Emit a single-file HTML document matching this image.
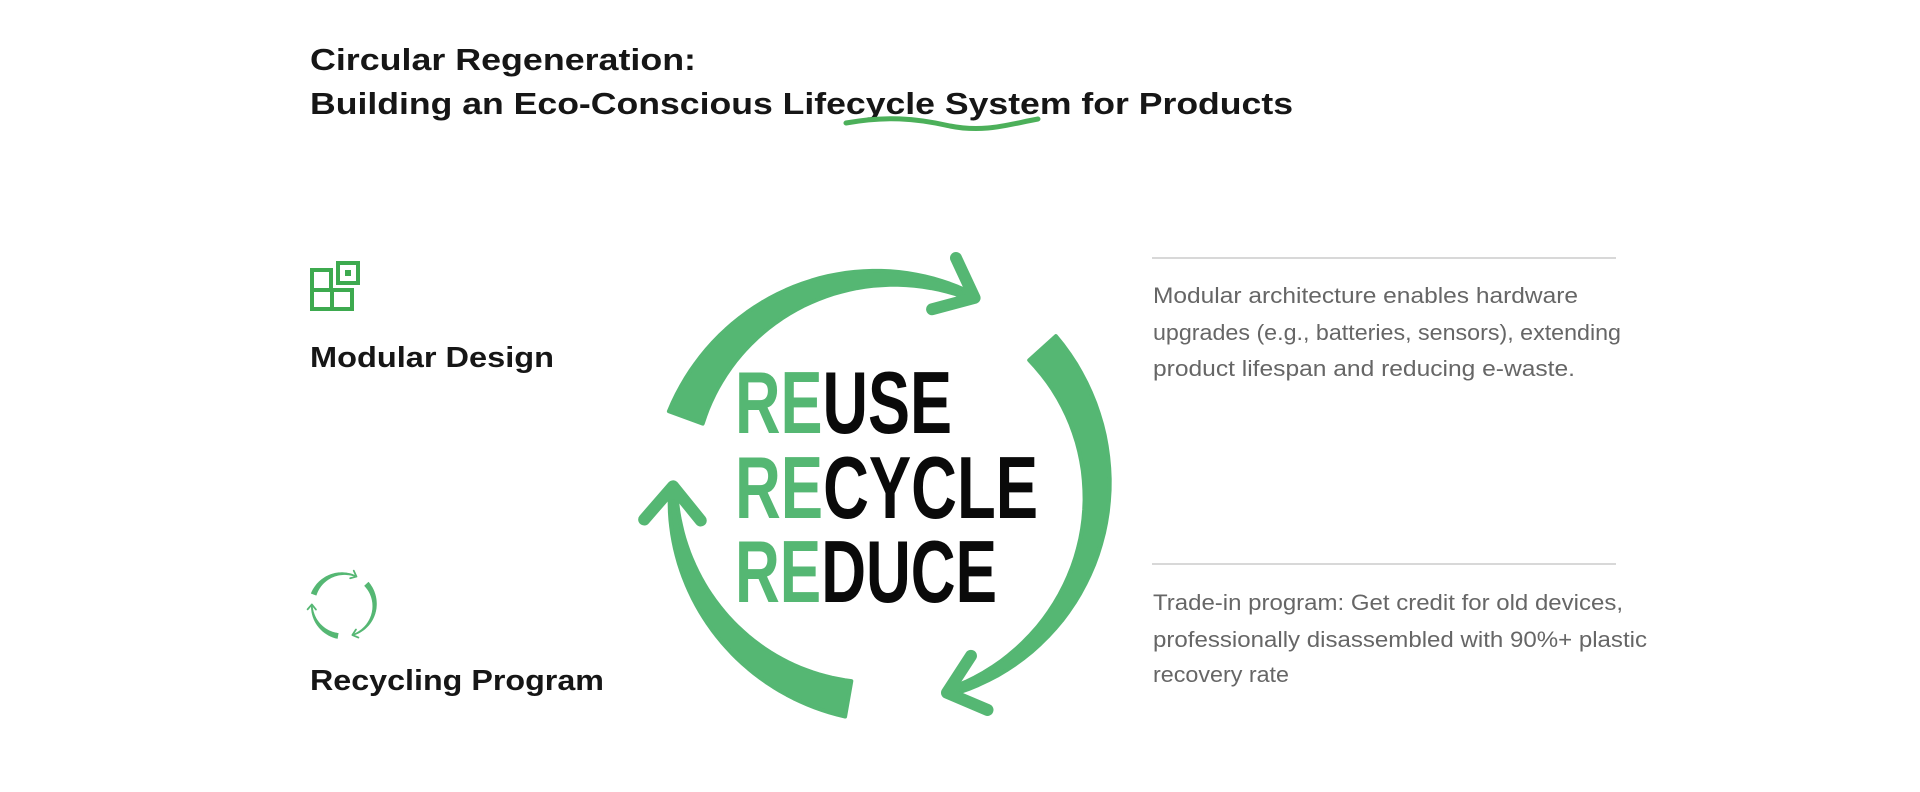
<!DOCTYPE html>
<html><head><meta charset="utf-8"><style>
html,body{margin:0;padding:0;background:#fff;width:1920px;height:792px;overflow:hidden}
svg{display:block}
</style></head><body>
<svg id="s" width="1920" height="792" viewBox="0 0 1920 792" xmlns="http://www.w3.org/2000/svg" font-family="Liberation Sans, sans-serif">
<text x="310" y="70" font-size="31" font-weight="bold" fill="#161616" textLength="386" lengthAdjust="spacingAndGlyphs">Circular Regeneration:</text>
<text x="310" y="114" font-size="31" font-weight="bold" fill="#161616" textLength="983" lengthAdjust="spacingAndGlyphs">Building an Eco-Conscious Lifecycle System for Products</text>
<path d="M846,123 C885,116 915,118 950,126 C985,133 1010,124 1038,119" fill="none" stroke="#4cb05a" stroke-width="5" stroke-linecap="round"/>

<g fill="none" stroke="#3daa4f" stroke-width="4">
<rect x="312" y="270" width="19" height="20"/>
<rect x="312" y="290" width="20" height="19"/>
<rect x="332" y="290" width="20" height="19"/>
<rect x="338" y="263" width="20" height="20"/>
</g>
<rect x="345" y="270" width="6" height="6" fill="#3daa4f"/>
<text x="310" y="367" font-size="29" font-weight="bold" fill="#161616" textLength="244" lengthAdjust="spacingAndGlyphs">Modular Design</text>
<text x="310" y="690" font-size="29" font-weight="bold" fill="#161616" textLength="294" lengthAdjust="spacingAndGlyphs">Recycling Program</text>

<line x1="1152" y1="258" x2="1616" y2="258" stroke="#d8d8d8" stroke-width="2"/>
<line x1="1152" y1="564" x2="1616" y2="564" stroke="#d8d8d8" stroke-width="2"/>
<g font-size="22" fill="#666">
<text x="1153" y="303" textLength="425" lengthAdjust="spacingAndGlyphs">Modular architecture enables hardware</text>
<text x="1153" y="340" textLength="468" lengthAdjust="spacingAndGlyphs">upgrades (e.g., batteries, sensors), extending</text>
<text x="1153" y="376" textLength="422" lengthAdjust="spacingAndGlyphs">product lifespan and reducing e-waste.</text>
<text x="1153" y="610" textLength="470" lengthAdjust="spacingAndGlyphs">Trade-in program: Get credit for old devices,</text>
<text x="1153" y="647" textLength="494" lengthAdjust="spacingAndGlyphs">professionally disassembled with 90%+ plastic</text>
<text x="1153" y="682" textLength="136" lengthAdjust="spacingAndGlyphs">recovery rate</text>
</g>

<g id="big" transform="translate(620,240)"></g>
<g id="small" transform="translate(304,568) scale(0.148)"></g>

<g transform="translate(620,240)" font-size="88" font-weight="bold">
<text x="115" y="193" textLength="217" lengthAdjust="spacingAndGlyphs"><tspan fill="#55b773">RE</tspan><tspan fill="#0a0a0a">USE</tspan></text>
<text x="115" y="278" textLength="303" lengthAdjust="spacingAndGlyphs"><tspan fill="#55b773">RE</tspan><tspan fill="#0a0a0a">CYCLE</tspan></text>
<text x="115" y="362" textLength="262" lengthAdjust="spacingAndGlyphs"><tspan fill="#55b773">RE</tspan><tspan fill="#0a0a0a">DUCE</tspan></text>
</g>
</svg>
<script>
(function(){
var NS="http://www.w3.org/2000/svg";
var cx=265,cy=250,R=212,G="#55b773";
function pt(r,a){a=a*Math.PI/180;return [cx+r*Math.cos(a),cy+r*Math.sin(a)];}
function build(g){
 var arcs=[[200,292,36,7],[318,70,36,7],[100,178,36,7]];
 arcs.forEach(function(A){
  var a0=A[0],a1=A[1];if(a1<a0)a1+=360;
  var n=40,outer=[],inner=[];
  for(var i=0;i<=n;i++){var t=i/n,a=a0+(a1-a0)*t,w=A[2]+(A[3]-A[2])*t;
   outer.push(pt(R+w/2,a));inner.push(pt(R-w/2,a));}
  var d="M"+outer.map(function(p){return p[0].toFixed(1)+","+p[1].toFixed(1)}).join(" L");
  inner.reverse();d+=" L"+inner.map(function(p){return p[0].toFixed(1)+","+p[1].toFixed(1)}).join(" L")+"Z";
  var p=document.createElementNS(NS,"path");p.setAttribute("d",d);p.setAttribute("fill",G);
  p.setAttribute("stroke",G);p.setAttribute("stroke-width","4");p.setAttribute("stroke-linejoin","round");g.appendChild(p);
  var ae=a1+3,tip=pt(R,ae),ar=ae*Math.PI/180,tx=-Math.sin(ar),ty=Math.cos(ar);
  function rot(x,y,d){d=d*Math.PI/180;return [x*Math.cos(d)-y*Math.sin(d),x*Math.sin(d)+y*Math.cos(d)];}
  var L=44,b1=rot(tx,ty,40),b2=rot(tx,ty,-40);
  var pl=document.createElementNS(NS,"polyline");
  pl.setAttribute("points",(tip[0]-L*b1[0])+","+(tip[1]-L*b1[1])+" "+tip[0]+","+tip[1]+" "+(tip[0]-L*b2[0])+","+(tip[1]-L*b2[1]));
  pl.setAttribute("fill","none");pl.setAttribute("stroke",G);pl.setAttribute("stroke-width","12");
  pl.setAttribute("stroke-linecap","round");pl.setAttribute("stroke-linejoin","round");g.appendChild(pl);
 });
}
build(document.getElementById("big"));
build(document.getElementById("small"));
})();
</script>
</body></html>
